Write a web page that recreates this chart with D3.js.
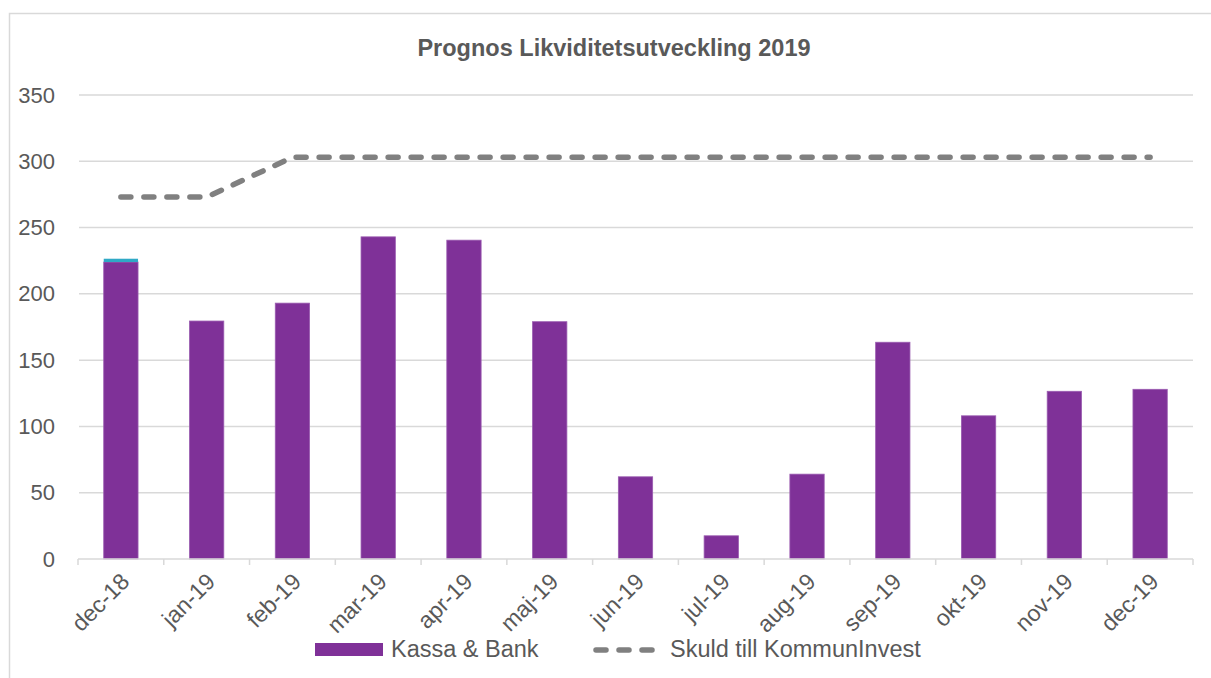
<!DOCTYPE html>
<html>
<head>
<meta charset="utf-8">
<script src="https://cdn.jsdelivr.net/npm/d3@7"></script>
<style>
  body { margin: 0; background: #fff; }
  svg { display: block; font-family: "Liberation Sans", Arial, sans-serif; }
</style>
</head>
<body>
<svg id="chart" width="1211" height="678"></svg>
<script>
// chart data
let months = ['dec-18','jan-19','feb-19','mar-19','apr-19','maj-19','jun-19','jul-19','aug-19','sep-19','okt-19','nov-19','dec-19'];
let kassaBank = [224, 179.5, 193, 243, 240.5, 179, 62, 17.5, 64, 163.5, 108, 126.5, 128];
let ovrigt = [2.5, 0, 0, 0, 0, 0, 0, 0, 0, 0, 0, 0, 0];
let skuld = [273, 273, 303, 303, 303, 303, 303, 303, 303, 303, 303, 303, 303];
let yTicks = [0, 50, 100, 150, 200, 250, 300, 350];

let width = 1211;
let height = 678;
let margin = {left: 78, right: 18, top: 95, bottom: 119};
let textColor = '#595959';
let gridColor = '#d9d9d9';
let purple = '#7f3198';
let cyan = '#2fa9c6';

let svg = d3.select('#chart');

// outer chart frame
svg.append('rect')
    .attr('x', 9.5).attr('y', 13.5)
    .attr('width', 1300).attr('height', 700)
    .attr('fill', 'none')
    .attr('stroke', gridColor)
    .attr('stroke-width', 1.5);

svg.append('text')
    .attr('x', 614).attr('y', 56)
    .attr('text-anchor', 'middle')
    .attr('font-size', 23.5)
    .attr('font-weight', 'bold')
    .attr('fill', textColor)
    .text('Prognos Likviditetsutveckling 2019');

let x = d3.scaleBand()
    .domain(months)
    .range([margin.left, width - margin.right])
    .padding(0);

let y = d3.scaleLinear()
    .domain([0, 350])
    .range([height - margin.bottom, margin.top]);

// gridlines
svg.append('g')
    .selectAll('line')
    .data(yTicks.filter(d => d > 0))
    .enter().append('line')
    .attr('x1', margin.left + 1).attr('x2', width - margin.right)
    .attr('y1', d => y(d)).attr('y2', d => y(d))
    .attr('stroke', gridColor)
    .attr('stroke-width', 1.5);

// y axis labels
let yAxis = svg.append('g')
    .attr('transform', `translate(${margin.left},0)`)
    .call(d3.axisLeft(y).tickValues(yTicks).tickSize(0).tickPadding(23));
yAxis.select('.domain').remove();
yAxis.selectAll('text')
    .attr('font-size', 22)
    .attr('font-family', '"Liberation Sans", Arial, sans-serif')
    .attr('fill', textColor);

// bars
let barW = x.bandwidth() / 2.5;
let bars = svg.append('g');
bars.selectAll('rect.kb')
    .data(months)
    .enter().append('rect')
    .attr('class', 'kb')
    .attr('x', d => x(d) + (x.bandwidth() - barW) / 2)
    .attr('width', barW)
    .attr('y', (d, i) => y(kassaBank[i]))
    .attr('height', (d, i) => y(0) - y(kassaBank[i]))
    .attr('fill', purple)
    .attr('stroke', '#9a5bb0')
    .attr('stroke-width', 0.8);

bars.selectAll('rect.ov')
    .data(months.filter((d, i) => ovrigt[i] > 0))
    .enter().append('rect')
    .attr('class', 'ov')
    .attr('x', d => x(d) + (x.bandwidth() - barW) / 2)
    .attr('width', barW)
    .attr('y', d => { let i = months.indexOf(d); return y(kassaBank[i] + ovrigt[i]); })
    .attr('height', d => { let i = months.indexOf(d); return y(kassaBank[i]) - y(kassaBank[i] + ovrigt[i]); })
    .attr('fill', cyan);

// x axis
let xAxis = svg.append('g')
    .attr('transform', `translate(0,${y(0)})`)
    .call(d3.axisBottom(x).tickSize(0).tickFormat(''));
xAxis.select('.domain')
    .attr('stroke', gridColor)
    .attr('stroke-width', 1.5)
    .attr('d', `M${margin.left},0H${width - margin.right}`);

// tick marks at category boundaries
let bounds = months.map(d => x(d)).concat([width - margin.right]);
svg.append('g')
    .selectAll('line')
    .data(bounds)
    .enter().append('line')
    .attr('x1', d => d).attr('x2', d => d)
    .attr('y1', y(0)).attr('y2', y(0) + 6)
    .attr('stroke', gridColor)
    .attr('stroke-width', 1.5);

svg.append('g')
    .selectAll('text')
    .data(months)
    .enter().append('text')
    .attr('transform', d => `translate(${x(d) + x.bandwidth() / 2 + 10},${y(0) + 24}) rotate(-45)`)
    .attr('text-anchor', 'end')
    .attr('font-size', 23)
    .attr('fill', textColor)
    .text(d => d);

// skuld line
let line = d3.line()
    .x((d, i) => x(months[i]) + x.bandwidth() / 2)
    .y(d => y(d));

svg.append('path')
    .datum(skuld)
    .attr('d', line)
    .attr('fill', 'none')
    .attr('stroke', '#808080')
    .attr('stroke-width', 5.5)
    .attr('stroke-linecap', 'round')
    .attr('stroke-dasharray', '10,13');

// legend
let legend = svg.append('g');
legend.append('rect')
    .attr('x', 315).attr('y', 643)
    .attr('width', 68).attr('height', 13)
    .attr('fill', purple);
legend.append('text')
    .attr('x', 391).attr('y', 657)
    .attr('font-size', 23.5)
    .attr('fill', textColor)
    .text('Kassa & Bank');
legend.append('line')
    .attr('x1', 596).attr('x2', 656)
    .attr('y1', 650).attr('y2', 650)
    .attr('stroke', '#808080')
    .attr('stroke-width', 5.5)
    .attr('stroke-linecap', 'round')
    .attr('stroke-dasharray', '10,13');
legend.append('text')
    .attr('x', 670).attr('y', 657)
    .attr('font-size', 23.5)
    .attr('fill', textColor)
    .text('Skuld till KommunInvest');
</script>
</body>
</html>
